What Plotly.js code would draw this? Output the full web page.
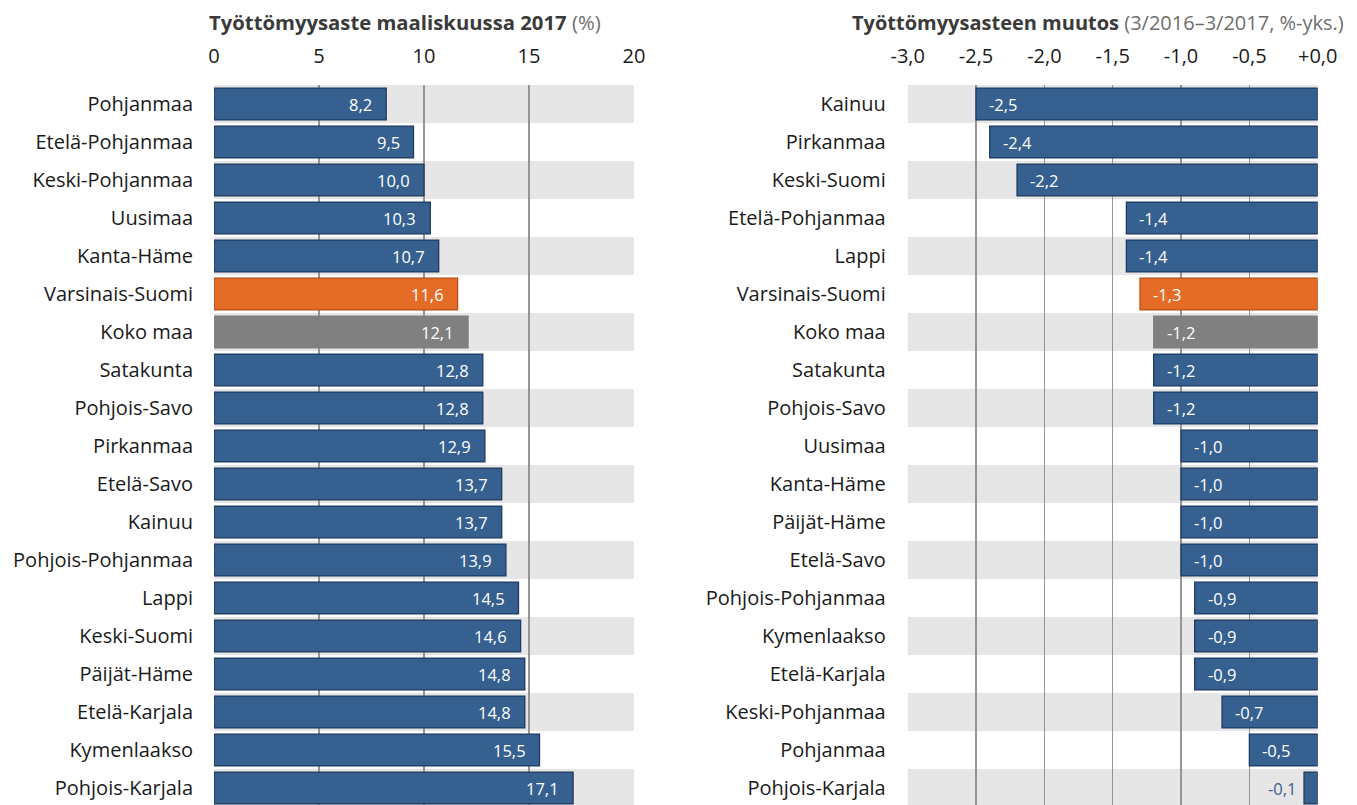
<!DOCTYPE html>
<html><head><meta charset="utf-8">
<script src="https://cdn.plot.ly/plotly-3.0.1.min.js"></script>
<style>html,body{margin:0;padding:0;overflow:hidden;background:#fff}#chart{width:1357px;height:807px}</style>
</head><body><div id="chart"></div>
<script>
// Left panel: unemployment rate March 2017 (%)
const leftRegions = ["Pohjanmaa","Etelä-Pohjanmaa","Keski-Pohjanmaa","Uusimaa","Kanta-Häme","Varsinais-Suomi","Koko maa","Satakunta","Pohjois-Savo","Pirkanmaa","Etelä-Savo","Kainuu","Pohjois-Pohjanmaa","Lappi","Keski-Suomi","Päijät-Häme","Etelä-Karjala","Kymenlaakso","Pohjois-Karjala"];
const leftValues = [8.2,9.5,10.0,10.3,10.7,11.6,12.1,12.8,12.8,12.9,13.7,13.7,13.9,14.5,14.6,14.8,14.8,15.5,17.1];
// Right panel: change 3/2016–3/2017 (%-points)
const rightRegions = ["Kainuu","Pirkanmaa","Keski-Suomi","Etelä-Pohjanmaa","Lappi","Varsinais-Suomi","Koko maa","Satakunta","Pohjois-Savo","Uusimaa","Kanta-Häme","Päijät-Häme","Etelä-Savo","Pohjois-Pohjanmaa","Kymenlaakso","Etelä-Karjala","Keski-Pohjanmaa","Pohjanmaa","Pohjois-Karjala"];
const rightValues = [-2.5,-2.4,-2.2,-1.4,-1.4,-1.3,-1.2,-1.2,-1.2,-1.0,-1.0,-1.0,-1.0,-0.9,-0.9,-0.9,-0.7,-0.5,-0.1];
const leftTickVals = [0,5,10,15,20];
const leftTickText = ["0","5","10","15","20"];
const rightTickVals = [-3,-2.5,-2,-1.5,-1,-0.5,0];
const rightTickText = ["-3,0","-2,5","-2,0","-1,5","-1,0","-0,5","+0,0"];

const BLUE='#36608f', BLUE_LINE='#1e3a60', ORANGE='#e56c26', ORANGE_LINE='#b44f17', GRAY='#808080';
const FONT='Open Sans';
function fillOf(r){return r==='Varsinais-Suomi'?ORANGE:(r==='Koko maa'?GRAY:BLUE);}
function lineOf(r){return r==='Varsinais-Suomi'?ORANGE_LINE:(r==='Koko maa'?GRAY:BLUE_LINE);}
function fmt(v){return v.toFixed(1).replace('.',',');}

const traces=[
 {type:'bar',orientation:'h',x:leftValues,y:leftRegions,xaxis:'x',yaxis:'y',width:0.84,
  marker:{color:leftRegions.map(fillOf),line:{color:leftRegions.map(lineOf),width:1.3}},hoverinfo:'none'},
 {type:'bar',orientation:'h',x:rightValues,y:rightRegions,xaxis:'x2',yaxis:'y2',width:0.84,
  marker:{color:rightRegions.map(fillOf),line:{color:rightRegions.map(lineOf),width:1.3}},hoverinfo:'none'}
];

const shapes=[];
for(let i=0;i<leftRegions.length;i+=2){
  shapes.push({type:'rect',layer:'below',xref:'x domain',yref:'y',x0:0,x1:1,y0:i-0.5,y1:i+0.5,fillcolor:'#e6e6e7',line:{width:0}});
  shapes.push({type:'rect',layer:'below',xref:'x2 domain',yref:'y2',x0:0,x1:1,y0:i-0.5,y1:i+0.5,fillcolor:'#e6e6e7',line:{width:0}});
}

const annotations=[];
leftRegions.forEach((r,i)=>{
  annotations.push({xref:'x',yref:'y',x:leftValues[i],y:r,text:fmt(leftValues[i]),showarrow:false,xanchor:'right',xshift:-12,
    font:{family:FONT,size:16.5,color:'#ffffff'}});
});
rightRegions.forEach((r,i)=>{
  const v=rightValues[i];
  const inside = v<=-0.3;
  annotations.push({xref:'x2',yref:'y2',x:v,y:r,text:fmt(v),showarrow:false,
    xanchor: inside?'left':'right', xshift: inside?11:-6,
    font:{family:FONT,size:16.5,color: inside?'#ffffff':BLUE}});
});
annotations.push({xref:'paper',yref:'paper',x:207/1357,y:(807-22)/722,xanchor:'left',yanchor:'middle',showarrow:false,
  text:"<b>Työttömyysaste maaliskuussa 2017</b> <span style='color:#6e6e6e'>(%)</span>",font:{family:FONT,size:20.3,color:'#3a3a3a'}});
annotations.push({xref:'paper',yref:'paper',x:1346/1357,y:(807-22)/722,xanchor:'right',yanchor:'middle',showarrow:false,
  text:"<b>Työttömyysasteen muutos</b> <span style='color:#6e6e6e'>(3/2016–3/2017, %-yks.)</span>",font:{family:FONT,size:20,color:'#3a3a3a'}});

const axFont={family:FONT,size:20,color:'#1a1a1a'};
const layout={
  width:1357,height:807,margin:{l:0,r:0,t:85,b:0},paper_bgcolor:'#fff',plot_bgcolor:'rgba(0,0,0,0)',
  showlegend:false,barmode:'overlay',
  xaxis:{domain:[214/1357,634/1357],range:[0,20],side:'top',tickvals:leftTickVals,ticktext:leftTickText,
    showgrid:true,gridcolor:'#959595',gridwidth:1.5,zeroline:false,showline:false,
    ticks:'outside',ticklen:13,tickcolor:'rgba(0,0,0,0)',tickfont:axFont,fixedrange:true},
  yaxis:{anchor:'x',domain:[0,1],autorange:'reversed',type:'category',categoryorder:'array',categoryarray:leftRegions,
    showgrid:false,zeroline:false,showline:false,ticks:'outside',ticklen:16,tickcolor:'rgba(0,0,0,0)',tickfont:axFont,fixedrange:true},
  xaxis2:{domain:[907.7/1357,1317.7/1357],range:[-3,0],side:'top',anchor:'y2',tickvals:rightTickVals,ticktext:rightTickText,
    showgrid:true,gridcolor:'#959595',gridwidth:1.5,zeroline:false,showline:false,
    ticks:'outside',ticklen:13,tickcolor:'rgba(0,0,0,0)',tickfont:axFont,fixedrange:true},
  yaxis2:{anchor:'x2',domain:[0,1],autorange:'reversed',type:'category',categoryorder:'array',categoryarray:rightRegions,
    showgrid:false,zeroline:false,showline:false,ticks:'outside',ticklen:17,tickcolor:'rgba(0,0,0,0)',tickfont:axFont,fixedrange:true},
  shapes:shapes,annotations:annotations
};
Plotly.newPlot('chart',traces,layout,{displayModeBar:false,staticPlot:true});
</script></body></html>
